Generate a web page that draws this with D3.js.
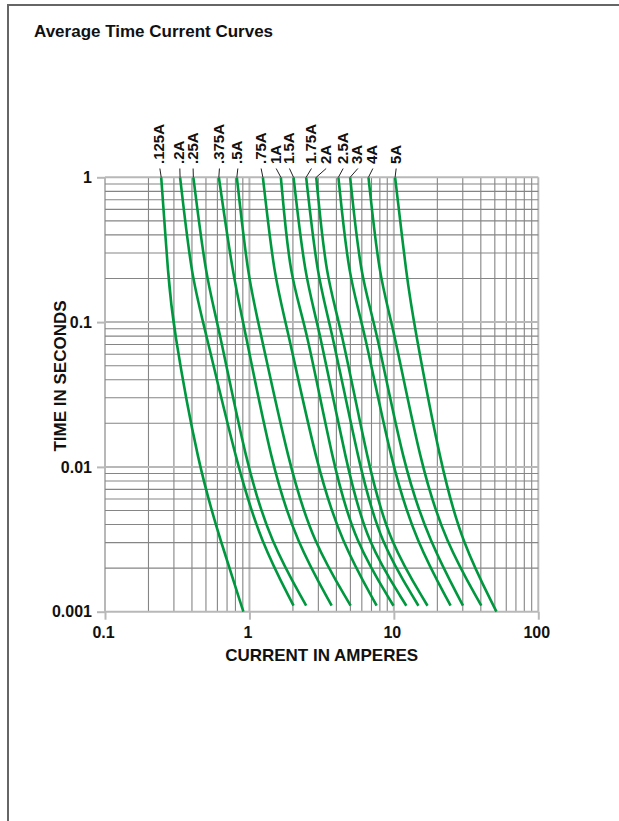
<!DOCTYPE html>
<html>
<head>
<meta charset="utf-8">
<script src="https://cdn.jsdelivr.net/npm/d3@7"></script>
<style>
  body { margin: 0; background: #fff; }
  text { font-family: "Liberation Sans", Arial, Helvetica, sans-serif; font-weight: bold; fill: #111; }
</style>
</head>
<body>
<script>
// fuse ratings, one curve each
var fuseNames = [".125A", ".2A", ".25A", ".375A", ".5A", ".75A", "1A", "1.5A", "1.75A", "2A", "2.5A", "3A", "4A", "5A"];

// current (A) at fixed times (s)
var ampsAt1s    = [0.245, 0.331, 0.409, 0.614, 0.818, 1.239, 1.65, 2.02, 2.47, 2.90, 4.13, 4.98, 6.67, 10.2];
var ampsAt02s   = [0.275, 0.399, 0.501, 0.775, 0.98, 1.49, 1.91, 2.43, 2.96, 3.40, 4.88, 5.91, 7.94, 12.3];
var ampsAt01s   = [0.293, 0.48, 0.604, 0.909, 1.154, 1.795, 2.44, 2.98, 3.62, 4.25, 6.10, 7.42, 9.78, 13.7];
var ampsAt001s  = [0.443, 0.826, 0.959, 1.43, 1.89, 2.93, 3.82, 4.73, 5.78, 6.67, 9.69, 11.65, 15.4, 21.2];
var ampsAt0003s = [0.637, 1.205, 1.41, 2.13, 2.77, 4.36, 5.40, 6.50, 8.04, 9.33, 14.4, 17.8, 22.9, 29.6];
// where each curve stops
var endAmps  = [0.908, 2.02, 2.47, 3.71, 5.02, 7.6, 9.94, 12.2, 14.8, 17.1, 24.7, 30.1, 40.3, 51.3];
var endTimes = [0.001, 0.0011, 0.0011, 0.0011, 0.0011, 0.0011, 0.0011, 0.0011, 0.0011, 0.0011, 0.0011, 0.0011, 0.0011, 0.001];
// current (A) above which each rating label sits
var labelAmps = [0.236, 0.3245, 0.401, 0.61, 0.818, 1.186, 1.507, 1.863, 2.645, 3.344, 4.385, 5.543, 7.041, 10.21];

var xTicks = [0.1, 1, 10, 100];
var yTicks = [1, 0.1, 0.01, 0.001];

var W = 619, H = 821;
var svg = d3.select("body").append("svg").attr("width", W).attr("height", H);

// outer frame
svg.append("rect")
  .attr("x", 8).attr("y", 5)
  .attr("width", 700).attr("height", 1000)
  .attr("fill", "none")
  .attr("stroke", "#666")
  .attr("stroke-width", 2);

svg.append("text")
  .attr("x", 34).attr("y", 37)
  .style("font-size", "17px")
  .text("Average Time Current Curves");

var x = d3.scaleLog().domain([0.1, 100]).range([105, 538.3]);
var y = d3.scaleLog().domain([1, 0.001]).range([177.3, 611.7]);

function isDecade(v) {
  var l = Math.log10(v);
  return Math.abs(l - Math.round(l)) < 1e-6;
}

// grid
var grid = svg.append("g");
grid.selectAll(".vline")
  .data(x.ticks())
  .enter()
  .append("line")
  .attr("x1", function (d) { return x(d); })
  .attr("x2", function (d) { return x(d); })
  .attr("y1", y(1))
  .attr("y2", y(0.001))
  .attr("stroke", function (d) { return isDecade(d) ? "#b8b8b8" : "#858585"; })
  .attr("stroke-width", function (d) { return isDecade(d) ? 2 : 1.1; });

grid.selectAll(".hline")
  .data(y.ticks())
  .enter()
  .append("line")
  .attr("x1", x(0.1))
  .attr("x2", x(100))
  .attr("y1", function (d) { return y(d); })
  .attr("y2", function (d) { return y(d); })
  .attr("stroke", function (d) { return isDecade(d) ? "#b8b8b8" : "#858585"; })
  .attr("stroke-width", function (d) { return isDecade(d) ? 2 : 1.1; });

// axes
var xAxis = svg.append("g")
  .attr("transform", "translate(0," + y(0.001) + ")")
  .call(d3.axisBottom(x).tickValues(xTicks).tickFormat(d3.format("~g")).tickSize(8).tickPadding(7));
var yAxis = svg.append("g")
  .attr("transform", "translate(" + x(0.1) + ",0)")
  .call(d3.axisLeft(y).tickValues(yTicks).tickFormat(d3.format("~g")).tickSize(8).tickPadding(5));

[xAxis, yAxis].forEach(function (a) {
  a.select(".domain").remove();
  a.selectAll(".tick line").attr("stroke", "#b8b8b8").attr("stroke-width", 2);
  a.selectAll(".tick text")
    .attr("fill", "#111")
    .style("font-family", "'Liberation Sans', Arial, sans-serif")
    .style("font-weight", "bold")
    .style("font-size", "16px");
});
xAxis.selectAll(".tick text").attr("dx", -2);

svg.append("text")
  .attr("x", (x(0.1) + x(100)) / 2)
  .attr("y", 661)
  .attr("text-anchor", "middle")
  .style("font-size", "17px")
  .text("CURRENT IN AMPERES");

svg.append("text")
  .attr("transform", "translate(66,376) rotate(-90)")
  .attr("text-anchor", "middle")
  .style("font-size", "17px")
  .text("TIME IN SECONDS");

// curves
var series = fuseNames.map(function (name, i) {
  return {
    name: name,
    label: labelAmps[i],
    points: [
      [ampsAt1s[i], 1],
      [ampsAt02s[i], 0.2],
      [ampsAt01s[i], 0.1],
      [ampsAt001s[i], 0.01],
      [ampsAt0003s[i], 0.003],
      [endAmps[i], endTimes[i]]
    ]
  };
});

var line = d3.line()
  .x(function (d) { return x(d[0]); })
  .y(function (d) { return y(d[1]); })
  .curve(d3.curveBasis);

svg.append("g")
  .selectAll("path")
  .data(series)
  .enter()
  .append("path")
  .attr("d", function (d) { return line(d.points); })
  .attr("fill", "none")
  .attr("stroke", "#00983f")
  .attr("stroke-width", 2.6);

// rating labels with leader lines
var lab = svg.append("g")
  .selectAll("g")
  .data(series)
  .enter()
  .append("g");

lab.append("line")
  .attr("x1", function (d) { return x(d.label) + 1; })
  .attr("y1", 168.5)
  .attr("x2", function (d) { return x(d.points[0][0]); })
  .attr("y2", y(1))
  .attr("stroke", "#222")
  .attr("stroke-width", 1);

lab.append("text")
  .attr("transform", function (d) { return "translate(" + x(d.label) + ",164) rotate(-90)"; })
  .attr("dy", "0.36em")
  .style("font-size", "15px")
  .text(function (d) { return d.name; });
</script>
</body>
</html>
